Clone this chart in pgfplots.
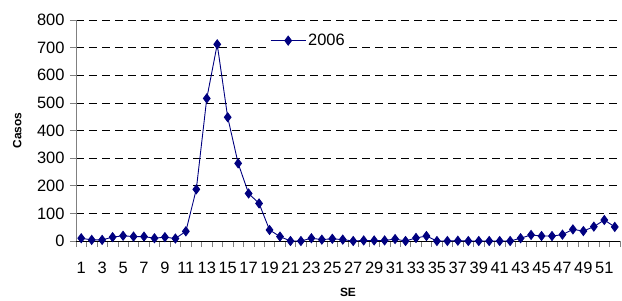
\documentclass[border=0pt]{standalone}
\usepackage{pgfplots}
\pgfplotsset{compat=1.18}
\usepackage{fontspec}
\setmainfont{Liberation Sans}
\definecolor{navyc}{HTML}{000080}
\begin{document}
\begin{tikzpicture}
\path[use as bounding box] (-76bp,-60bp) rectangle (546bp,241bp);
\begin{axis}[
  scale only axis, width=544bp, height=221bp,
  at={(0,0)}, anchor=south west,
  xmin=0.5, xmax=52.5, ymin=0, ymax=800,
  axis x line*=bottom, axis y line*=left,
  x axis line style={black, line width=0.8pt, -},
  y axis line style={gray, line width=0.8pt, -},
  xtick={1,3,...,51},
  minor xtick={0.5,1.5,...,52.5},
  ytick={0,100,...,800},
  tick align=outside,
  major x tick style={draw=none},
  minor x tick style={gray, line width=0.6pt},
  minor tick length=6bp,
  y tick style={gray, line width=0.6pt},
  major tick length=6bp,
  ymajorgrids,
  y grid style={black, dash pattern=on 8bp off 5bp, line width=0.6pt},
  /pgf/number format/assume math mode=true,
  tick label style={font=\fontsize{16.5}{18}\selectfont},
  xticklabel style={yshift=-12bp},
  yticklabel style={xshift=-2bp},
  xlabel={SE}, ylabel={Casos},
  label style={font=\fontsize{12}{14}\selectfont\bfseries},
  xlabel style={at={(axis description cs:0.5,-0.232)}, anchor=center, inner sep=0pt},
  ylabel style={at={(axis description cs:-0.108,0.5)}, anchor=center},
  clip=false,
  legend style={at={(rel axis cs:0.353,0.955)}, anchor=north west, draw=none, fill=white,
    font=\fontsize{16.5}{18}\selectfont, inner sep=2bp},
  legend image code/.code={\draw[mark repeat=2,mark phase=2] plot coordinates {(0bp,0bp) (17.5bp,0bp) (35bp,0bp)};},
]
\addplot[navyc, line width=0.9pt, mark=diamond*, mark size=4.5pt, mark options={solid, fill=navyc}] coordinates {
(1,10) (2,4) (3,4) (4,14) (5,19) (6,16) (7,16) (8,10) (9,14) (10,9)
(11,35) (12,187) (13,516) (14,712) (15,448) (16,281) (17,172) (18,136) (19,40) (20,16)
(21,0) (22,0) (23,10) (24,5) (25,8) (26,5) (27,0) (28,2) (29,2) (30,2)
(31,7) (32,0) (33,11) (34,18) (35,0) (36,0) (37,1) (38,0) (39,0) (40,0)
(41,0) (42,0) (43,10) (44,22) (45,18) (46,18) (47,23) (48,42) (49,36) (50,52)
(51,76) (52,51)
};
\addlegendentry{2006}
\end{axis}
\end{tikzpicture}
\end{document}
